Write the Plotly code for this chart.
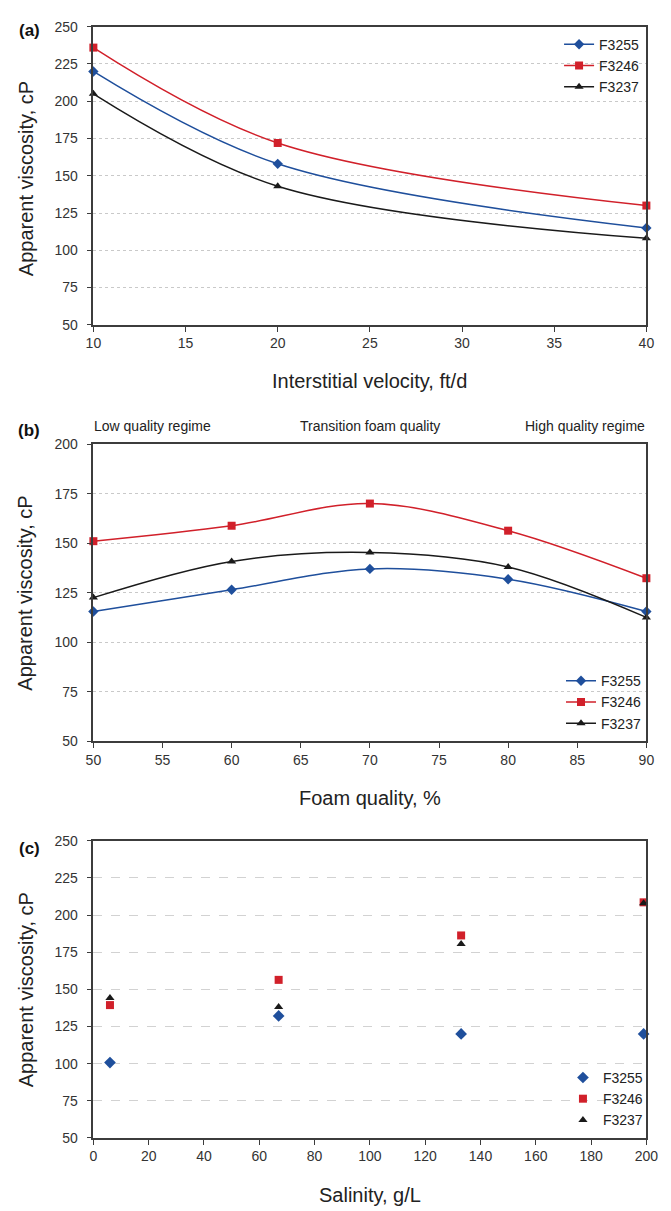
import plotly.graph_objects as go

# ---- data -------------------------------------------------------------
series_names = ["F3255", "F3246", "F3237"]

# (a) apparent viscosity vs interstitial velocity
velocity = [10, 20, 40]
visc_a_f3255 = [220, 158, 115]
visc_a_f3246 = [236, 172, 130]
visc_a_f3237 = [205, 143, 108]

# (b) apparent viscosity vs foam quality
foam_quality = [50, 60, 70, 80, 90]
visc_b_f3255 = [115.5, 126.5, 137, 131.8, 115.5]
visc_b_f3246 = [151, 158.8, 170, 156.3, 132.3]
visc_b_f3237 = [122.5, 140.8, 145.3, 138, 112.5]

# (c) apparent viscosity vs salinity
salinity = [6, 67, 133, 199]
visc_c_f3255 = [100.7, 132.1, 120, 120]
visc_c_f3246 = [139.4, 156.4, 186.3, 208.6]
visc_c_f3237 = [144.2, 138.1, 180.5, 208]

regime_labels = ["Low quality regime", "Transition foam quality", "High quality regime"]

# ---- styling ------------------------------------------------------------
W, H = 671, 1211
FONT = "Liberation Sans, Arial, sans-serif"
colors = ["#1f4f9c", "#d1202a", "#1a1a1a"]
symbols = ["diamond", "square", "triangle-up"]
msizes = [8, 8, 8]
AXIS_COL = "#3c3c3c"


def py(px):
    """pixel row -> paper fraction"""
    return 1 - px / H


def px_x(px):
    return px / W


X0, X1 = 88, 658
panels = {
    "a": (19, 321),
    "b": (442, 743),
    "c": (844, 1145),
}

fig = go.Figure()

# (a) smoothed lines with markers
for name, ys, c, s, ms in zip(series_names, [visc_a_f3255, visc_a_f3246, visc_a_f3237],
                               colors, symbols, msizes):
    fig.add_trace(go.Scatter(
        x=velocity, y=ys, name=name, mode="lines+markers",
        line=dict(color=c, width=1.5, shape="spline", smoothing=1.0),
        marker=dict(symbol=s, size=ms, color=c),
        cliponaxis=False, xaxis="x", yaxis="y", legend="legend"))

# (b) smoothed lines with markers
for name, ys, c, s, ms in zip(series_names, [visc_b_f3255, visc_b_f3246, visc_b_f3237],
                               colors, symbols, msizes):
    fig.add_trace(go.Scatter(
        x=foam_quality, y=ys, name=name, mode="lines+markers",
        line=dict(color=c, width=1.5, shape="spline", smoothing=1.0),
        marker=dict(symbol=s, size=ms, color=c),
        cliponaxis=False, xaxis="x2", yaxis="y2", legend="legend2"))

# (c) markers only
for name, ys, c, s, ms in zip(series_names, [visc_c_f3255, visc_c_f3246, visc_c_f3237],
                               colors, symbols, [9, 8, 8]):
    fig.add_trace(go.Scatter(
        x=salinity, y=ys, name=name, mode="markers",
        marker=dict(symbol=s, size=ms, color=c),
        cliponaxis=False, xaxis="x3", yaxis="y3", legend="legend3"))

axis_common = dict(
    showline=True, linecolor=AXIS_COL, linewidth=1.5, mirror=True,
    ticks="outside", ticklen=5, tickwidth=1.2, tickcolor=AXIS_COL,
    tickfont=dict(family=FONT, size=14, color="#333333"),
    zeroline=False,
)
yaxis_common = dict(axis_common, ticklabelstandoff=6)

xdom = [px_x(X0), px_x(X1)]
layout = dict(
    width=W, height=H,
    margin=dict(l=0, r=0, t=0, b=0),
    paper_bgcolor="white", plot_bgcolor="white",
    font=dict(family=FONT, color="#222222"),
    showlegend=True,
    xaxis=dict(domain=xdom, range=[10, 40], dtick=5, showgrid=False, anchor="y", **axis_common),
    yaxis=dict(domain=[py(panels["a"][1]), py(panels["a"][0])], range=[50, 250], dtick=25,
               showgrid=True, gridcolor="#c9c9c9", griddash="dot", gridwidth=1,
               anchor="x", **yaxis_common),
    xaxis2=dict(domain=xdom, range=[50, 90], dtick=5, showgrid=False, anchor="y2", **axis_common),
    yaxis2=dict(domain=[py(panels["b"][1]), py(panels["b"][0])], range=[50, 200], dtick=25,
                showgrid=True, gridcolor="#c9c9c9", griddash="dot", gridwidth=1,
                anchor="x2", **yaxis_common),
    xaxis3=dict(domain=xdom, range=[0, 200], dtick=20, showgrid=False, anchor="y3", **axis_common),
    yaxis3=dict(domain=[py(panels["c"][1]), py(panels["c"][0])], range=[50, 250], dtick=25,
                showgrid=True, gridcolor="#d2d2d2", griddash="dash", gridwidth=1,
                anchor="x3", **yaxis_common),
)

legend_common = dict(
    bgcolor="rgba(0,0,0,0)", borderwidth=0,
    font=dict(family=FONT, size=14, color="#222222"),
    xanchor="left", yanchor="top", itemwidth=30, tracegroupgap=0,
)
layout["legend"] = dict(x=px_x(568), y=py(21), **legend_common)
layout["legend2"] = dict(x=px_x(570), y=py(666), **legend_common)
layout["legend3"] = dict(x=px_x(572), y=py(1068), **legend_common)

fig.update_layout(**layout)

# panel letters, axis titles and regime labels
ann = []
for letter, top in zip(["(a)", "(b)", "(c)"], [23, 428, 852]):
    ann.append(dict(text=f"<b>{letter}</b>", x=px_x(22), y=py(top), xref="paper", yref="paper",
                    xanchor="center", yanchor="middle", showarrow=False,
                    font=dict(family=FONT, size=17, color="#111111")))

for title, ypx in [("Interstitial velocity, ft/d", 378), ("Foam quality, %", 801),
                   ("Salinity, g/L", 1203)]:
    ann.append(dict(text=title, x=px_x((X0 + X1) / 2), y=py(ypx), xref="paper", yref="paper",
                    xanchor="center", yanchor="middle", showarrow=False,
                    font=dict(family=FONT, size=20, color="#222222")))

for ypx in [173, 593, 995]:
    ann.append(dict(text="Apparent viscosity, cP", x=px_x(18), y=py(ypx), xref="paper",
                    yref="paper", xanchor="center", yanchor="middle", showarrow=False,
                    textangle=-90, font=dict(family=FONT, size=20, color="#222222")))

for lbl, xpx, anchor in zip(regime_labels, [X0 - 1, (X0 + X1) / 2, X1 + 1],
                            ["left", "center", "right"]):
    ann.append(dict(text=lbl, x=px_x(xpx), y=py(424), xref="paper", yref="paper",
                    xanchor=anchor, yanchor="middle", showarrow=False,
                    font=dict(family=FONT, size=14, color="#222222")))

fig.update_layout(annotations=ann)

fig.write_html("out.html")
